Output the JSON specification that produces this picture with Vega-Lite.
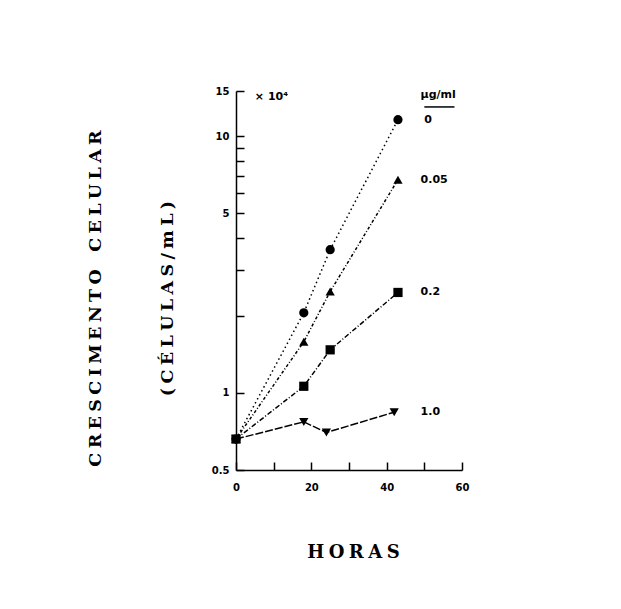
{
  "$schema": "https://vega.github.io/schema/vega-lite/v6.json",
  "width": 226,
  "height": 379,
  "autosize": {"type": "none"},
  "padding": {"left": 236, "top": 91, "right": 159, "bottom": 139},
  "background": "white",
  "config": {"view": {"stroke": null}, "font": "DejaVu Sans"},
  "datasets": {
    "growth": [
      {"series": "0", "hours": 0, "value": 0.66},
      {"series": "0", "hours": 18, "value": 2.05},
      {"series": "0", "hours": 25, "value": 3.61},
      {"series": "0", "hours": 43, "value": 11.6},
      {"series": "0.05", "hours": 0, "value": 0.66},
      {"series": "0.05", "hours": 18, "value": 1.58},
      {"series": "0.05", "hours": 25, "value": 2.48},
      {"series": "0.05", "hours": 43, "value": 6.77},
      {"series": "0.2", "hours": 0, "value": 0.66},
      {"series": "0.2", "hours": 18, "value": 1.06},
      {"series": "0.2", "hours": 25, "value": 1.47},
      {"series": "0.2", "hours": 43, "value": 2.46},
      {"series": "1.0", "hours": 0, "value": 0.66},
      {"series": "1.0", "hours": 18, "value": 0.77},
      {"series": "1.0", "hours": 24, "value": 0.70},
      {"series": "1.0", "hours": 42, "value": 0.84}
    ],
    "labels": [
      {"text": "0", "hours": 50, "value": 11.6},
      {"text": "0.05", "hours": 49, "value": 6.77},
      {"text": "0.2", "hours": 49, "value": 2.46},
      {"text": "1.0", "hours": 49, "value": 0.84},
      {"text": "µg/ml", "hours": 49, "value": 14.5},
      {"text": "× 10⁴", "hours": 5, "value": 14.2}
    ],
    "underline": [
      {"hours": 50, "hours2": 58, "value": 13}
    ]
  },
  "encoding": {
    "x": {
      "field": "hours",
      "type": "quantitative",
      "scale": {"domain": [0, 60], "nice": false, "zero": false},
      "axis": {
        "title": "H\u2005O\u2005R\u2005A\u2005S",
        "values": [0, 10, 20, 30, 40, 50, 60],
        "labelExpr": "datum.value % 20 === 0 ? datum.label : ''",
        "grid": false,
        "tickSize": -8,
        "labelPadding": 20,
        "labelOverlap": false,
        "labelFlush": false,
        "domainColor": "black",
        "domainWidth": 1.5,
        "tickColor": "black",
        "tickWidth": 1.5,
        "labelFont": "DejaVu Sans",
        "labelFontSize": 10,
        "labelFontWeight": "bold",
        "labelColor": "black",
        "titleFont": "DejaVu Serif",
        "titleFontSize": 18,
        "titleFontWeight": "bold",
        "titleColor": "black",
        "titleX": 117,
        "titleY": 87,
        "titleBaseline": "alphabetic"
      }
    },
    "y": {
      "field": "value",
      "type": "quantitative",
      "scale": {"type": "log", "domain": [0.5, 15], "nice": false},
      "axis": {
        "title": [
          "C\u2005R\u2005E\u2005S\u2005C\u2005I\u2005M\u2005E\u2005N\u2005T\u2005O\u2003C\u2005E\u2005L\u2005U\u2005L\u2005A\u2005R",
          "(\u2005C\u2005É\u2005L\u2005U\u2005L\u2005A\u2005S\u2005/\u2005m\u2005L\u2005)"
        ],
        "values": [0.5, 1, 2, 3, 4, 5, 6, 7, 8, 9, 10, 15],
        "format": "~g",
        "labelExpr": "indexof([0.5, 1, 5, 10, 15], datum.value) >= 0 ? datum.label : ''",
        "grid": false,
        "tickSize": -8,
        "labelPadding": 15,
        "labelOverlap": false,
        "labelFlush": false,
        "domainColor": "black",
        "domainWidth": 1.5,
        "tickColor": "black",
        "tickWidth": 1.5,
        "labelFont": "DejaVu Sans",
        "labelFontSize": 10,
        "labelFontWeight": "bold",
        "labelColor": "black",
        "titleFont": "DejaVu Serif",
        "titleFontSize": 17.5,
        "titleFontWeight": "bold",
        "titleColor": "black",
        "titleAngle": 270,
        "titleX": -141,
        "titleY": 207,
        "titleAlign": "center",
        "titleBaseline": "middle",
        "titleLineHeight": 72
      }
    }
  },
  "layer": [
    {
      "data": {"name": "growth"},
      "mark": {"type": "line", "color": "black", "strokeWidth": 1.5},
      "encoding": {
        "detail": {"field": "series"},
        "strokeDash": {
          "field": "series",
          "type": "nominal",
          "scale": {"domain": ["0", "0.05", "0.2", "1.0"], "range": [[1.5, 3], [3, 2, 1, 2], [5, 2, 1, 2], [8, 2]]},
          "legend": null
        }
      }
    },
    {
      "data": {"name": "growth"},
      "mark": {"type": "point", "filled": true, "color": "black", "opacity": 1, "size": 85},
      "encoding": {
        "shape": {
          "field": "series",
          "type": "nominal",
          "scale": {"domain": ["0", "0.05", "0.2", "1.0"], "range": ["circle", "triangle-up", "square", "triangle-down"]},
          "legend": null
        }
      }
    },
    {
      "data": {"name": "labels"},
      "mark": {"type": "text", "align": "left", "baseline": "middle", "fontSize": 11, "fontWeight": "bold", "font": "DejaVu Sans", "color": "black"},
      "encoding": {
        "text": {"field": "text"}
      }
    },
    {
      "data": {"name": "underline"},
      "mark": {"type": "rule", "color": "black", "strokeWidth": 1.5},
      "encoding": {
        "x2": {"field": "hours2"}
      }
    }
  ]
}
